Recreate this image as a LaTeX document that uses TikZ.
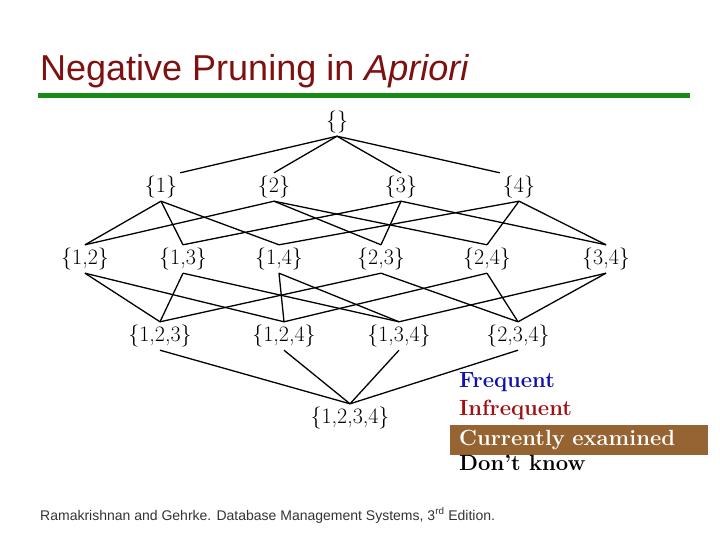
\documentclass[tikz,border=0pt]{standalone}
\usepackage{fontspec}
\newfontfamily\arialfont{Liberation Sans}
\definecolor{titlered}{HTML}{7F1010}
\definecolor{rulegreen}{HTML}{168C16}
\definecolor{freqblue}{HTML}{1010B0}
\definecolor{infreqred}{HTML}{A01010}
\definecolor{exambrown}{HTML}{966432}
\definecolor{footgray}{HTML}{333333}
\begin{document}
\begin{tikzpicture}[
    x=1pt, y=-1pt,
    itemset/.style={inner sep=3pt, font=\fontsize{22}{26}\selectfont},
    legend/.style={anchor=base west, inner sep=0pt, font=\fontsize{22}{26}\selectfont\bfseries},
    edge/.style={line width=1.3pt, black},
]
    \useasboundingbox (0,0) rectangle (720,540);

    % Title and rule
    \node[anchor=base west, inner sep=0pt, text=titlered, font=\arialfont\fontsize{36}{40}\selectfont]
        (title) at (40,81) {Negative Pruning in \textit{Apriori}};
    \draw[rulegreen, line width=4.5pt] (38,95.5) -- (690,95.5);

    % Level 0: empty set
    \node[itemset] (e) at (337,122) {\{\}};

    % Level 1: single items
    \node[itemset] (n1) at (161,187) {\{1\}};
    \node[itemset] (n2) at (274,187) {\{2\}};
    \node[itemset] (n3) at (401,187) {\{3\}};
    \node[itemset] (n4) at (519,187) {\{4\}};

    % Level 2: pairs
    \node[itemset] (n12) at ( 85,259) {\{1,2\}};
    \node[itemset] (n13) at (183,259) {\{1,3\}};
    \node[itemset] (n14) at (279,259) {\{1,4\}};
    \node[itemset] (n23) at (381,259) {\{2,3\}};
    \node[itemset] (n24) at (487,259) {\{2,4\}};
    \node[itemset] (n34) at (606,259) {\{3,4\}};

    % Level 3: triples
    \node[itemset] (n123) at (160,336) {\{1,2,3\}};
    \node[itemset] (n124) at (284,336) {\{1,2,4\}};
    \node[itemset] (n134) at (399,336) {\{1,3,4\}};
    \node[itemset] (n234) at (518,336) {\{2,3,4\}};

    % Level 4: full set
    \node[itemset] (n1234) at (350,418) {\{1,2,3,4\}};

    % Edges between levels
    \draw[edge] (e.south) -- (n1.north east);
    \draw[edge] (e.south) -- (n2.north);
    \draw[edge] (e.south) -- (n3.north);
    \draw[edge] (e.south) -- (n4.north west);

    \foreach \a/\b in {n1/n12, n1/n13, n1/n14, n2/n12, n2/n23, n2/n24,
                       n3/n13, n3/n23, n3/n34, n4/n14, n4/n24, n4/n34,
                       n12/n123, n12/n124, n13/n123, n13/n134, n14/n124, n14/n134,
                       n23/n123, n23/n234, n24/n124, n24/n234, n34/n134, n34/n234,
                       n123/n1234, n124/n1234, n134/n1234, n234/n1234}
        \draw[edge] (\a.south) -- (\b.north);

    % Legend
    \node[legend, text=freqblue] (freq) at (459,387) {Frequent};
    \node[legend, text=infreqred] (infreq) at (459,415) {Infrequent};
    \node[legend, anchor=west, fill=exambrown, text=white, inner xsep=9pt,
          text width=240pt, minimum height=30pt, text height=15pt, text depth=5pt]
        (exam) at (450,440) {Currently examined};
    \node[legend] (unknown) at (459,470) {Don't know};

    % Footer
    \node[anchor=base west, inner sep=0pt, text=footgray, font=\arialfont\fontsize{14}{16}\selectfont]
        (credit) at (40,520) {Ramakrishnan and Gehrke. Database Management Systems, 3\textsuperscript{rd} Edition.};
\end{tikzpicture}
\end{document}
